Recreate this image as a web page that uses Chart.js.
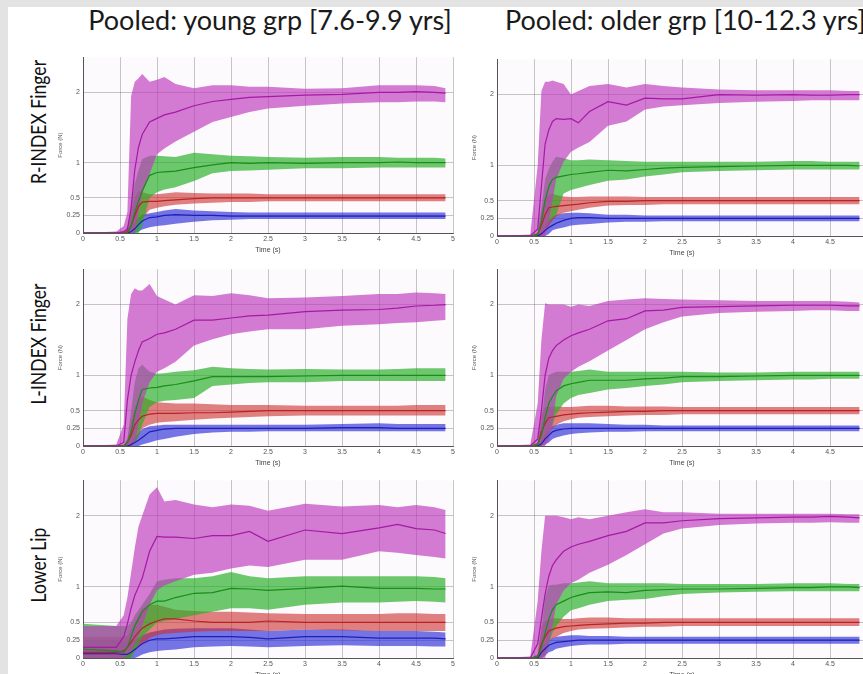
<!DOCTYPE html>
<html>
<head>
<meta charset="utf-8">
<script src="https://cdn.jsdelivr.net/npm/chart.js@4.4.0/dist/chart.umd.min.js"></script>
<style>
  html, body { margin: 0; padding: 0; }
  body {
    width: 863px; height: 674px; overflow: hidden; position: relative;
    background: #e3e3e3; font-family: Lato, 'Liberation Sans', sans-serif;
  }
  #sheet { position: absolute; left: 8px; top: 7px; width: 900px; height: 700px; background: #fff; }
  .col-title { position: absolute; top: 3px; font-size: 27px; color: #1a1a1a; white-space: nowrap; }
  .row-label {
    position: absolute; font-size: 22px; color: #111; white-space: nowrap;
    transform: translate(-50%, -50%) rotate(-90deg) scaleX(0.8);
  }
  canvas { position: absolute; }
</style>
</head>
<body>
<div id="sheet"></div>
<div class="col-title" style="left:270px; transform:translateX(-50%);">Pooled: young grp [7.6-9.9 yrs]</div>
<div class="col-title" style="left:505px;">Pooled: older grp [10-12.3 yrs]</div>
<div class="row-label" style="left:37px; top:122px;">R-INDEX Finger</div>
<div class="row-label" style="left:37px; top:344px;">L-INDEX Finger</div>
<div class="row-label" style="left:37px; top:565px;">Lower Lip</div>

<script>
// ============================================
// Data (time in s, force in N)
// ============================================
const T = [0, 0.45, 0.55, 0.6, 0.65, 0.7, 0.75, 0.8, 0.9, 1.0, 1.1, 1.25, 1.5, 1.75, 2.0, 2.25, 2.5, 3.0, 3.5, 4.0, 4.25, 4.5, 4.75, 4.9];
const Y_TICKS = [0, 0.25, 0.5, 1, 2];

// R-INDEX finger, young group
const rYoung_f2_mean = [0, 0, 0.02, 0.05, 0.35, 0.9, 1.22, 1.4, 1.58, 1.63, 1.68, 1.72, 1.81, 1.87, 1.9, 1.93, 1.94, 1.96, 1.97, 2.0, 2.0, 2.01, 2.0, 1.99];
const rYoung_f2_hi   = [0, 0.02, 0.1, 0.3, 1.95, 2.15, 2.2, 2.26, 2.15, 2.18, 2.22, 2.12, 2.06, 2.1, 2.1, 2.08, 2.08, 2.05, 2.06, 2.1, 2.1, 2.1, 2.09, 2.06];
const rYoung_f2_lo   = [0, 0, 0, 0, 0, 0, 0.3, 0.55, 0.84, 1.12, 1.2, 1.3, 1.44, 1.58, 1.65, 1.72, 1.77, 1.81, 1.84, 1.86, 1.86, 1.87, 1.87, 1.86];
const rYoung_f1_mean = [0, 0, 0, 0, 0.1, 0.3, 0.45, 0.6, 0.82, 0.86, 0.87, 0.88, 0.93, 0.97, 1.0, 0.99, 1.0, 0.99, 1.0, 1.0, 1.01, 1.0, 1.0, 1.0];
const rYoung_f1_hi   = [0, 0, 0, 0.05, 0.4, 0.7, 0.9, 1.05, 1.1, 1.1, 1.09, 1.08, 1.14, 1.12, 1.1, 1.09, 1.08, 1.07, 1.08, 1.08, 1.07, 1.07, 1.07, 1.06];
const rYoung_f1_lo   = [0, 0, 0, 0, 0, 0, 0, 0.1, 0.5, 0.58, 0.62, 0.65, 0.74, 0.85, 0.88, 0.89, 0.9, 0.92, 0.92, 0.93, 0.93, 0.93, 0.93, 0.93];
const rYoung_f05_mean = [0, 0, 0, 0.02, 0.1, 0.25, 0.38, 0.44, 0.45, 0.45, 0.46, 0.47, 0.49, 0.5, 0.5, 0.5, 0.5, 0.5, 0.5, 0.5, 0.5, 0.5, 0.5, 0.5];
const rYoung_f05_hi   = [0, 0, 0, 0.1, 0.3, 0.5, 0.6, 0.58, 0.55, 0.55, 0.56, 0.58, 0.57, 0.56, 0.56, 0.56, 0.55, 0.55, 0.55, 0.55, 0.55, 0.55, 0.55, 0.55];
const rYoung_f05_lo   = [0, 0, 0, 0, 0, 0.05, 0.15, 0.2, 0.33, 0.36, 0.38, 0.4, 0.42, 0.43, 0.44, 0.44, 0.45, 0.45, 0.45, 0.45, 0.45, 0.45, 0.45, 0.45];
const rYoung_f025_mean = [0, 0, 0, 0, 0.02, 0.06, 0.12, 0.17, 0.22, 0.23, 0.25, 0.26, 0.25, 0.25, 0.24, 0.24, 0.24, 0.24, 0.24, 0.24, 0.24, 0.24, 0.24, 0.24];
const rYoung_f025_hi   = [0, 0, 0, 0.02, 0.08, 0.15, 0.22, 0.26, 0.28, 0.3, 0.32, 0.34, 0.32, 0.31, 0.3, 0.29, 0.29, 0.29, 0.29, 0.29, 0.29, 0.29, 0.29, 0.29];
const rYoung_f025_lo   = [0, 0, 0, 0, 0, 0, 0.02, 0.05, 0.08, 0.1, 0.11, 0.13, 0.16, 0.18, 0.19, 0.2, 0.2, 0.2, 0.2, 0.2, 0.2, 0.2, 0.2, 0.2];

// R-INDEX finger, older group
const rOlder_f2_mean = [0, 0, 0.1, 0.7, 1.3, 1.5, 1.62, 1.66, 1.65, 1.66, 1.6, 1.76, 1.9, 1.85, 1.95, 1.94, 1.94, 2.0, 1.99, 2.0, 1.99, 1.99, 2.0, 2.0];
const rOlder_f2_hi   = [0, 0.02, 1.0, 2.05, 2.18, 2.18, 2.2, 2.18, 2.15, 2.0, 2.05, 2.12, 2.15, 2.1, 2.15, 2.12, 2.1, 2.07, 2.06, 2.06, 2.06, 2.06, 2.05, 2.05];
const rOlder_f2_lo   = [0, 0, 0, 0, 0, 0.2, 0.5, 0.8, 1.05, 1.19, 1.25, 1.33, 1.56, 1.62, 1.79, 1.83, 1.85, 1.88, 1.9, 1.91, 1.92, 1.92, 1.92, 1.92];
const rOlder_f1_mean = [0, 0, 0.02, 0.2, 0.5, 0.7, 0.8, 0.83, 0.85, 0.87, 0.88, 0.9, 0.93, 0.92, 0.94, 0.96, 0.97, 0.98, 0.99, 1.0, 1.0, 1.0, 1.0, 0.99];
const rOlder_f1_hi   = [0, 0, 0.05, 0.4, 0.8, 0.95, 1.05, 1.12, 1.1, 1.07, 1.07, 1.08, 1.07, 1.06, 1.05, 1.05, 1.05, 1.05, 1.05, 1.06, 1.06, 1.05, 1.05, 1.05];
const rOlder_f1_lo   = [0, 0, 0, 0, 0.1, 0.2, 0.25, 0.3, 0.6, 0.65, 0.68, 0.72, 0.78, 0.8, 0.84, 0.87, 0.9, 0.92, 0.93, 0.94, 0.94, 0.94, 0.94, 0.94];
const rOlder_f05_mean = [0, 0, 0.02, 0.15, 0.3, 0.4, 0.41, 0.42, 0.43, 0.44, 0.45, 0.47, 0.49, 0.49, 0.5, 0.5, 0.5, 0.5, 0.5, 0.5, 0.5, 0.5, 0.5, 0.5];
const rOlder_f05_hi   = [0, 0, 0.05, 0.35, 0.55, 0.58, 0.6, 0.58, 0.56, 0.55, 0.55, 0.56, 0.56, 0.56, 0.55, 0.55, 0.55, 0.55, 0.55, 0.55, 0.55, 0.55, 0.55, 0.55];
const rOlder_f05_lo   = [0, 0, 0, 0, 0.05, 0.15, 0.22, 0.28, 0.33, 0.35, 0.37, 0.4, 0.43, 0.44, 0.44, 0.45, 0.45, 0.45, 0.45, 0.45, 0.45, 0.45, 0.45, 0.45];
const rOlder_f025_mean = [0, 0, 0, 0.03, 0.08, 0.12, 0.15, 0.18, 0.22, 0.25, 0.26, 0.26, 0.25, 0.25, 0.25, 0.25, 0.25, 0.25, 0.25, 0.25, 0.25, 0.25, 0.25, 0.25];
const rOlder_f025_hi   = [0, 0, 0.01, 0.08, 0.15, 0.22, 0.27, 0.3, 0.32, 0.33, 0.33, 0.32, 0.3, 0.3, 0.29, 0.29, 0.29, 0.29, 0.29, 0.29, 0.29, 0.29, 0.29, 0.29];
const rOlder_f025_lo   = [0, 0, 0, 0, 0, 0.03, 0.08, 0.1, 0.12, 0.15, 0.16, 0.17, 0.19, 0.2, 0.2, 0.21, 0.21, 0.21, 0.21, 0.21, 0.21, 0.21, 0.21, 0.21];

// L-INDEX finger, young group
const lYoung_f2_mean = [0, 0, 0.05, 0.65, 1.0, 1.19, 1.35, 1.47, 1.52, 1.58, 1.6, 1.65, 1.78, 1.78, 1.81, 1.84, 1.85, 1.9, 1.92, 1.93, 1.95, 1.98, 1.99, 2.0];
const lYoung_f2_hi   = [0, 0.02, 0.3, 1.8, 2.15, 2.23, 2.2, 2.2, 2.29, 2.12, 2.07, 2.0, 2.13, 2.12, 2.16, 2.13, 2.09, 2.1, 2.12, 2.15, 2.15, 2.17, 2.16, 2.15];
const lYoung_f2_lo   = [0, 0, 0, 0, 0, 0.05, 0.3, 0.6, 0.9, 1.05, 1.1, 1.19, 1.42, 1.51, 1.58, 1.62, 1.65, 1.65, 1.7, 1.72, 1.74, 1.75, 1.77, 1.78];
const lYoung_f1_mean = [0, 0, 0, 0.05, 0.2, 0.45, 0.65, 0.8, 0.82, 0.83, 0.85, 0.87, 0.92, 0.98, 0.98, 0.98, 0.98, 0.99, 1.0, 1.0, 1.0, 1.0, 1.0, 1.0];
const lYoung_f1_hi   = [0, 0, 0, 0.1, 0.5, 0.9, 1.1, 1.15, 1.05, 1.02, 1.03, 1.05, 1.07, 1.12, 1.1, 1.09, 1.08, 1.09, 1.08, 1.08, 1.09, 1.1, 1.1, 1.1];
const lYoung_f1_lo   = [0, 0, 0, 0, 0, 0.05, 0.15, 0.3, 0.55, 0.62, 0.64, 0.65, 0.68, 0.85, 0.87, 0.89, 0.9, 0.9, 0.92, 0.92, 0.92, 0.92, 0.92, 0.92];
const lYoung_f05_mean = [0, 0, 0, 0.05, 0.15, 0.3, 0.37, 0.42, 0.45, 0.46, 0.46, 0.46, 0.47, 0.47, 0.48, 0.49, 0.5, 0.5, 0.5, 0.5, 0.5, 0.5, 0.5, 0.5];
const lYoung_f05_hi   = [0, 0, 0, 0.1, 0.35, 0.55, 0.65, 0.7, 0.65, 0.62, 0.61, 0.6, 0.6, 0.59, 0.58, 0.58, 0.58, 0.57, 0.57, 0.57, 0.57, 0.58, 0.58, 0.58];
const lYoung_f05_lo   = [0, 0, 0, 0, 0, 0.05, 0.15, 0.25, 0.3, 0.33, 0.34, 0.35, 0.37, 0.39, 0.4, 0.41, 0.42, 0.43, 0.43, 0.43, 0.43, 0.43, 0.43, 0.43];
const lYoung_f025_mean = [0, 0, 0, 0, 0.02, 0.05, 0.08, 0.12, 0.2, 0.22, 0.24, 0.25, 0.25, 0.25, 0.25, 0.25, 0.25, 0.25, 0.26, 0.26, 0.25, 0.25, 0.25, 0.25];
const lYoung_f025_hi   = [0, 0, 0, 0.01, 0.05, 0.12, 0.18, 0.24, 0.28, 0.29, 0.3, 0.3, 0.3, 0.3, 0.3, 0.3, 0.3, 0.3, 0.31, 0.32, 0.31, 0.31, 0.31, 0.31];
const lYoung_f025_lo   = [0, 0, 0, 0, 0, 0, 0, 0.02, 0.05, 0.08, 0.1, 0.13, 0.17, 0.19, 0.2, 0.2, 0.21, 0.21, 0.21, 0.21, 0.21, 0.21, 0.21, 0.21];

// L-INDEX finger, older group
const lOlder_f2_mean = [0, 0, 0.1, 0.5, 1.0, 1.24, 1.35, 1.42, 1.5, 1.56, 1.6, 1.65, 1.77, 1.8, 1.91, 1.92, 1.96, 1.97, 1.98, 1.99, 1.99, 1.99, 1.98, 1.98];
const lOlder_f2_hi   = [0, 0.02, 0.6, 1.5, 2.02, 2.0, 2.0, 2.0, 2.0, 1.97, 2.0, 1.98, 2.05, 2.07, 2.09, 2.08, 2.07, 2.06, 2.05, 2.05, 2.05, 2.05, 2.04, 2.03];
const lOlder_f2_lo   = [0, 0, 0, 0, 0, 0.1, 0.3, 0.7, 0.95, 1.05, 1.12, 1.2, 1.35, 1.5, 1.65, 1.75, 1.83, 1.88, 1.9, 1.91, 1.92, 1.92, 1.91, 1.91];
const lOlder_f1_mean = [0, 0, 0.02, 0.15, 0.4, 0.6, 0.7, 0.78, 0.85, 0.88, 0.9, 0.93, 0.93, 0.93, 0.95, 0.96, 0.98, 0.98, 0.99, 1.0, 1.0, 1.0, 1.0, 1.0];
const lOlder_f1_hi   = [0, 0, 0.05, 0.35, 0.8, 1.0, 1.03, 1.05, 1.05, 1.05, 1.06, 1.08, 1.05, 1.05, 1.05, 1.05, 1.05, 1.04, 1.04, 1.05, 1.05, 1.05, 1.05, 1.05];
const lOlder_f1_lo   = [0, 0, 0, 0, 0.05, 0.15, 0.3, 0.45, 0.6, 0.68, 0.72, 0.75, 0.8, 0.82, 0.85, 0.87, 0.9, 0.92, 0.93, 0.94, 0.94, 0.95, 0.95, 0.95];
const lOlder_f05_mean = [0, 0, 0.02, 0.2, 0.32, 0.4, 0.41, 0.42, 0.44, 0.45, 0.46, 0.47, 0.48, 0.49, 0.49, 0.5, 0.5, 0.5, 0.5, 0.5, 0.5, 0.5, 0.5, 0.5];
const lOlder_f05_hi   = [0, 0, 0.05, 0.45, 0.55, 0.55, 0.56, 0.56, 0.55, 0.55, 0.56, 0.57, 0.57, 0.56, 0.56, 0.56, 0.55, 0.55, 0.55, 0.55, 0.55, 0.55, 0.55, 0.55];
const lOlder_f05_lo   = [0, 0, 0, 0, 0.1, 0.2, 0.25, 0.3, 0.35, 0.38, 0.4, 0.41, 0.42, 0.43, 0.44, 0.44, 0.45, 0.45, 0.45, 0.45, 0.45, 0.45, 0.45, 0.45];
const lOlder_f025_mean = [0, 0, 0, 0.03, 0.1, 0.15, 0.2, 0.22, 0.24, 0.25, 0.25, 0.25, 0.25, 0.25, 0.25, 0.25, 0.25, 0.25, 0.25, 0.25, 0.25, 0.25, 0.25, 0.25];
const lOlder_f025_hi   = [0, 0, 0.01, 0.08, 0.18, 0.24, 0.28, 0.3, 0.32, 0.32, 0.32, 0.32, 0.31, 0.3, 0.3, 0.29, 0.29, 0.29, 0.29, 0.29, 0.29, 0.29, 0.29, 0.29];
const lOlder_f025_lo   = [0, 0, 0, 0, 0.02, 0.05, 0.1, 0.12, 0.15, 0.17, 0.18, 0.19, 0.2, 0.2, 0.21, 0.21, 0.21, 0.21, 0.21, 0.21, 0.21, 0.21, 0.21, 0.21];

// Lower lip, young group
const lipYoung_f2_mean = [0.15, 0.15, 0.3, 0.48, 0.7, 0.88, 1.0, 1.12, 1.5, 1.71, 1.7, 1.7, 1.68, 1.72, 1.72, 1.78, 1.64, 1.8, 1.75, 1.83, 1.88, 1.82, 1.8, 1.75];
const lipYoung_f2_hi   = [0.45, 0.45, 0.6, 0.85, 1.2, 1.55, 1.85, 2.0, 2.3, 2.4, 2.2, 2.22, 2.16, 2.12, 2.16, 2.14, 2.07, 2.17, 2.13, 2.15, 2.12, 2.15, 2.12, 2.08];
const lipYoung_f2_lo   = [0, 0, 0, 0.05, 0.1, 0.2, 0.3, 0.45, 0.75, 0.95, 1.02, 1.08, 1.17, 1.2, 1.26, 1.3, 1.28, 1.38, 1.38, 1.5, 1.48, 1.45, 1.42, 1.4];
const lipYoung_f1_mean = [0.12, 0.1, 0.08, 0.15, 0.3, 0.45, 0.55, 0.65, 0.75, 0.8, 0.8, 0.85, 0.91, 0.92, 0.98, 0.97, 0.95, 0.98, 1.01, 0.98, 0.98, 0.98, 0.97, 0.97];
const lipYoung_f1_hi   = [0.48, 0.45, 0.45, 0.45, 0.5, 0.6, 0.68, 0.75, 0.9, 1.08, 1.1, 1.12, 1.12, 1.15, 1.21, 1.15, 1.12, 1.15, 1.15, 1.15, 1.15, 1.15, 1.14, 1.12];
const lipYoung_f1_lo   = [0, 0, 0, 0, 0, 0.1, 0.2, 0.3, 0.4, 0.5, 0.52, 0.55, 0.6, 0.65, 0.7, 0.7, 0.68, 0.75, 0.78, 0.78, 0.79, 0.8, 0.79, 0.78];
const lipYoung_f05_mean = [0.08, 0.08, 0.1, 0.15, 0.22, 0.3, 0.36, 0.42, 0.48, 0.52, 0.55, 0.55, 0.52, 0.5, 0.5, 0.5, 0.52, 0.5, 0.5, 0.5, 0.5, 0.5, 0.5, 0.5];
const lipYoung_f05_hi   = [0.3, 0.3, 0.3, 0.32, 0.4, 0.5, 0.6, 0.7, 0.75, 0.75, 0.72, 0.68, 0.66, 0.65, 0.65, 0.64, 0.63, 0.62, 0.62, 0.62, 0.63, 0.63, 0.62, 0.62];
const lipYoung_f05_lo   = [0, 0, 0, 0, 0.02, 0.1, 0.15, 0.2, 0.28, 0.32, 0.34, 0.35, 0.37, 0.38, 0.38, 0.38, 0.38, 0.4, 0.39, 0.38, 0.38, 0.38, 0.38, 0.38];
const lipYoung_f025_mean = [0.06, 0.06, 0.05, 0.05, 0.08, 0.12, 0.16, 0.2, 0.25, 0.27, 0.27, 0.28, 0.3, 0.3, 0.3, 0.29, 0.27, 0.3, 0.3, 0.28, 0.28, 0.28, 0.28, 0.27];
const lipYoung_f025_hi   = [0.25, 0.25, 0.22, 0.22, 0.24, 0.25, 0.28, 0.32, 0.36, 0.38, 0.4, 0.41, 0.42, 0.42, 0.42, 0.4, 0.38, 0.4, 0.4, 0.38, 0.38, 0.38, 0.37, 0.36];
const lipYoung_f025_lo   = [0, 0, 0, 0, 0, 0, 0.02, 0.05, 0.08, 0.1, 0.11, 0.12, 0.15, 0.16, 0.17, 0.16, 0.15, 0.17, 0.18, 0.17, 0.17, 0.17, 0.16, 0.16];

// Lower lip, older group
const lipOlder_f2_mean = [0, 0, 0.2, 0.55, 0.9, 1.15, 1.3, 1.38, 1.5, 1.56, 1.6, 1.64, 1.72, 1.78, 1.9, 1.9, 1.93, 1.96, 1.97, 1.98, 1.98, 1.99, 1.98, 1.97];
const lipOlder_f2_hi   = [0, 0.02, 0.8, 1.5, 2.0, 2.0, 2.0, 2.0, 1.98, 1.95, 1.98, 1.95, 2.0, 2.05, 2.09, 2.05, 2.05, 2.03, 2.03, 2.03, 2.03, 2.03, 2.02, 2.02];
const lipOlder_f2_lo   = [0, 0, 0, 0, 0, 0.2, 0.45, 0.75, 0.95, 1.05, 1.1, 1.2, 1.31, 1.45, 1.6, 1.75, 1.82, 1.87, 1.89, 1.9, 1.9, 1.91, 1.9, 1.9];
const lipOlder_f1_mean = [0, 0, 0.02, 0.15, 0.35, 0.55, 0.68, 0.75, 0.8, 0.85, 0.88, 0.92, 0.93, 0.92, 0.95, 0.96, 0.97, 0.97, 0.98, 0.99, 0.99, 1.0, 1.0, 0.99];
const lipOlder_f1_hi   = [0, 0, 0.05, 0.4, 0.85, 1.02, 1.03, 1.03, 1.05, 1.05, 1.06, 1.08, 1.05, 1.05, 1.05, 1.05, 1.04, 1.04, 1.04, 1.05, 1.05, 1.05, 1.04, 1.04];
const lipOlder_f1_lo   = [0, 0, 0, 0, 0.05, 0.2, 0.35, 0.45, 0.58, 0.67, 0.7, 0.75, 0.8, 0.82, 0.83, 0.87, 0.9, 0.92, 0.93, 0.94, 0.94, 0.94, 0.94, 0.94];
const lipOlder_f05_mean = [0, 0, 0.02, 0.2, 0.3, 0.38, 0.4, 0.42, 0.44, 0.45, 0.46, 0.47, 0.48, 0.49, 0.49, 0.5, 0.5, 0.5, 0.5, 0.5, 0.5, 0.5, 0.5, 0.5];
const lipOlder_f05_hi   = [0, 0, 0.05, 0.45, 0.52, 0.55, 0.56, 0.56, 0.55, 0.55, 0.56, 0.57, 0.57, 0.56, 0.56, 0.56, 0.56, 0.56, 0.56, 0.56, 0.56, 0.56, 0.56, 0.56];
const lipOlder_f05_lo   = [0, 0, 0, 0, 0.1, 0.25, 0.27, 0.3, 0.35, 0.38, 0.4, 0.41, 0.42, 0.43, 0.44, 0.44, 0.45, 0.45, 0.45, 0.45, 0.45, 0.45, 0.45, 0.45];
const lipOlder_f025_mean = [0, 0, 0, 0.08, 0.13, 0.18, 0.2, 0.22, 0.23, 0.24, 0.25, 0.25, 0.25, 0.25, 0.25, 0.25, 0.25, 0.25, 0.25, 0.25, 0.25, 0.25, 0.25, 0.25];
const lipOlder_f025_hi   = [0, 0, 0.01, 0.15, 0.2, 0.25, 0.28, 0.3, 0.31, 0.32, 0.32, 0.31, 0.31, 0.3, 0.3, 0.3, 0.3, 0.3, 0.3, 0.3, 0.3, 0.3, 0.3, 0.3];
const lipOlder_f025_lo   = [0, 0, 0, 0, 0.03, 0.08, 0.1, 0.13, 0.15, 0.17, 0.18, 0.19, 0.19, 0.2, 0.2, 0.2, 0.2, 0.2, 0.2, 0.2, 0.2, 0.2, 0.2, 0.2];

// ============================================
// Styling
// ============================================
const COLORS = [
    { band: 'rgba(190, 60, 190, 0.68)', line: 'rgb(165, 25, 165)' },   // 2 N
    { band: 'rgba(40, 175, 40, 0.68)',  line: 'rgb(25, 140, 25)' },    // 1 N
    { band: 'rgba(205, 45, 45, 0.6)',   line: 'rgb(185, 35, 35)' },    // 0.5 N
    { band: 'rgba(45, 45, 215, 0.65)',  line: 'rgb(30, 30, 185)' }     // 0.25 N
];
const FONT = 'Liberation Sans, Arial, sans-serif';
const GRID = 'rgba(70, 70, 70, 0.38)';
const Y_AXIS_W = 26;
const X_AXIS_H = 21;
const PAD_T = 4;
const PAD_R = 6;

const series = (m, lo, hi) => ({ mean: m, lo: lo, hi: hi });

const panels = [
    { left: 83, right: 453, top: 54, bottom: 233, series: [
        series(rYoung_f2_mean, rYoung_f2_lo, rYoung_f2_hi),
        series(rYoung_f1_mean, rYoung_f1_lo, rYoung_f1_hi),
        series(rYoung_f05_mean, rYoung_f05_lo, rYoung_f05_hi),
        series(rYoung_f025_mean, rYoung_f025_lo, rYoung_f025_hi)] },
    { left: 497, right: 867, top: 56, bottom: 236, series: [
        series(rOlder_f2_mean, rOlder_f2_lo, rOlder_f2_hi),
        series(rOlder_f1_mean, rOlder_f1_lo, rOlder_f1_hi),
        series(rOlder_f05_mean, rOlder_f05_lo, rOlder_f05_hi),
        series(rOlder_f025_mean, rOlder_f025_lo, rOlder_f025_hi)] },
    { left: 83, right: 453, top: 266, bottom: 446, series: [
        series(lYoung_f2_mean, lYoung_f2_lo, lYoung_f2_hi),
        series(lYoung_f1_mean, lYoung_f1_lo, lYoung_f1_hi),
        series(lYoung_f05_mean, lYoung_f05_lo, lYoung_f05_hi),
        series(lYoung_f025_mean, lYoung_f025_lo, lYoung_f025_hi)] },
    { left: 497, right: 867, top: 266, bottom: 446, series: [
        series(lOlder_f2_mean, lOlder_f2_lo, lOlder_f2_hi),
        series(lOlder_f1_mean, lOlder_f1_lo, lOlder_f1_hi),
        series(lOlder_f05_mean, lOlder_f05_lo, lOlder_f05_hi),
        series(lOlder_f025_mean, lOlder_f025_lo, lOlder_f025_hi)] },
    { left: 83, right: 453, top: 477, bottom: 658, series: [
        series(lipYoung_f2_mean, lipYoung_f2_lo, lipYoung_f2_hi),
        series(lipYoung_f1_mean, lipYoung_f1_lo, lipYoung_f1_hi),
        series(lipYoung_f05_mean, lipYoung_f05_lo, lipYoung_f05_hi),
        series(lipYoung_f025_mean, lipYoung_f025_lo, lipYoung_f025_hi)] },
    { left: 497, right: 867, top: 477, bottom: 658, series: [
        series(lipOlder_f2_mean, lipOlder_f2_lo, lipOlder_f2_hi),
        series(lipOlder_f1_mean, lipOlder_f1_lo, lipOlder_f1_hi),
        series(lipOlder_f05_mean, lipOlder_f05_lo, lipOlder_f05_hi),
        series(lipOlder_f025_mean, lipOlder_f025_lo, lipOlder_f025_hi)] }
];

// faint tint of the plotting area (the many single trials behind the means)
const plotTint = {
    id: 'plotTint',
    beforeDraw(chart) {
        const { ctx, chartArea: a } = chart;
        ctx.save();
        ctx.fillStyle = '#fdfafd';
        ctx.fillRect(a.left, a.top, a.right - a.left, a.bottom - a.top);
        ctx.restore();
    }
};

const toPoints = arr => arr.map((v, i) => ({ x: T[i], y: v }));
const plainLabel = v => String(Math.round(v * 100) / 100);

// ============================================
// Build one chart per panel
// ============================================
function makePanel(p) {
    const canvas = document.createElement('canvas');
    const w = p.right - p.left + Y_AXIS_W + PAD_R;
    const h = p.bottom - p.top + PAD_T + X_AXIS_H;
    canvas.width = w;
    canvas.height = h;
    canvas.style.width = w + 'px';
    canvas.style.height = h + 'px';
    canvas.style.left = (p.left - Y_AXIS_W) + 'px';
    canvas.style.top = (p.top - PAD_T) + 'px';
    document.body.appendChild(canvas);

    const datasets = [];
    p.series.forEach((s, i) => {
        const c = COLORS[i];
        datasets.push({ data: toPoints(s.hi), fill: '+1', backgroundColor: c.band, borderWidth: 0, pointRadius: 0, order: 2 });
        datasets.push({ data: toPoints(s.lo), fill: false, borderWidth: 0, pointRadius: 0, order: 2 });
        datasets.push({ data: toPoints(s.mean), fill: false, borderColor: c.line, borderWidth: 1.2, pointRadius: 0, order: 1 });
    });

    new Chart(canvas, {
        type: 'line',
        data: { datasets },
        options: {
            responsive: false,
            animation: false,
            devicePixelRatio: 1,
            layout: { padding: { top: PAD_T, right: PAD_R, left: 0, bottom: 0 } },
            plugins: { legend: { display: false }, tooltip: { enabled: false } },
            scales: {
                x: {
                    type: 'linear', min: 0, max: 5,
                    ticks: { stepSize: 0.5, autoSkip: false, maxRotation: 0, padding: 2, color: '#555',
                             font: { family: FONT, size: 7 }, callback: plainLabel },
                    grid: { color: GRID, lineWidth: 0.8, drawTicks: false },
                    border: { color: '#555', width: 1 },
                    title: { display: true, text: 'Time (s)', padding: 0, color: '#444', font: { family: FONT, size: 7 } },
                    afterFit: s => { s.height = X_AXIS_H; }
                },
                y: {
                    type: 'linear', min: 0, max: 2.5,
                    afterBuildTicks: ax => { ax.ticks = Y_TICKS.map(v => ({ value: v })); },
                    ticks: { padding: 3, color: '#555', font: { family: FONT, size: 7 }, callback: plainLabel },
                    grid: { color: GRID, lineWidth: 0.8, drawTicks: false },
                    border: { color: '#555', width: 1 },
                    title: { display: true, text: 'Force (N)', padding: 0, color: '#555', font: { family: FONT, size: 6 } },
                    afterFit: s => { s.width = Y_AXIS_W; }
                }
            }
        },
        plugins: [plotTint]
    });
}

panels.forEach(makePanel);
</script>
</body>
</html>
